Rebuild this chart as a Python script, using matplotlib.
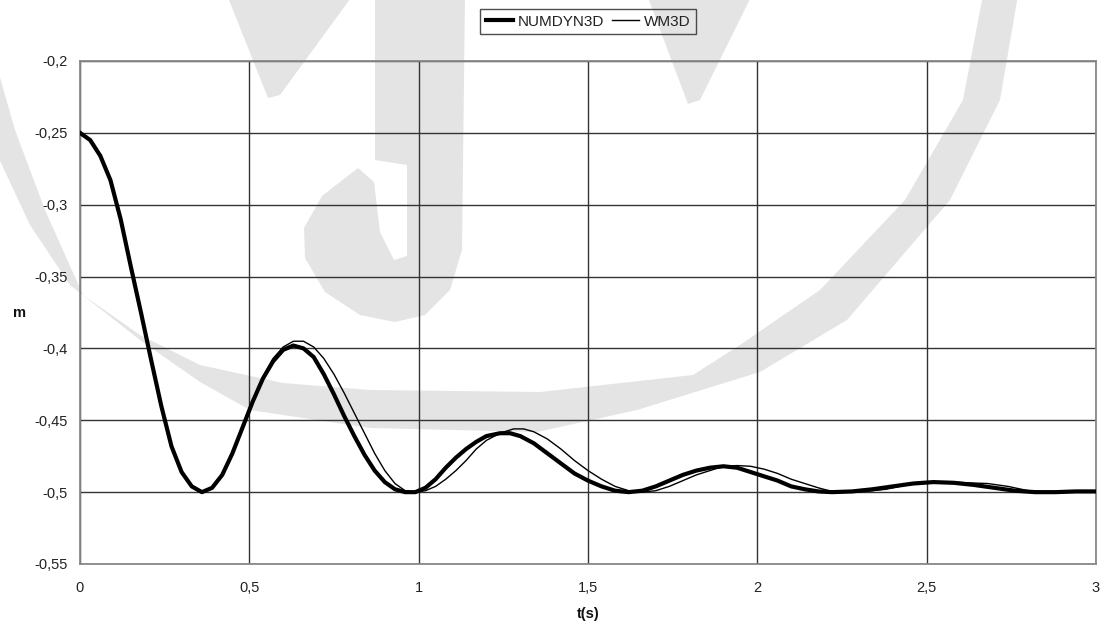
import matplotlib.pyplot as plt
from matplotlib.patches import Polygon

plt.rcParams['font.family'] = ['Liberation Sans', 'DejaVu Sans']

# time (s) and m values
t_num = [0.00, 0.03, 0.06, 0.09, 0.12, 0.15, 0.18, 0.21, 0.24, 0.27, 0.30,
         0.33, 0.36, 0.39, 0.42, 0.45, 0.48, 0.51, 0.54, 0.57, 0.60, 0.63,
         0.66, 0.69, 0.72, 0.75, 0.78, 0.81, 0.84, 0.87, 0.90, 0.93, 0.96,
         0.99, 1.02, 1.05, 1.08, 1.11, 1.14, 1.17, 1.20, 1.24, 1.27, 1.30,
         1.34, 1.38, 1.42, 1.46, 1.50, 1.54, 1.58, 1.62, 1.66, 1.70, 1.74,
         1.78, 1.82, 1.86, 1.90, 1.94, 1.98, 2.02, 2.06, 2.10, 2.14, 2.18,
         2.22, 2.28, 2.34, 2.40, 2.46, 2.52, 2.58, 2.64, 2.70, 2.76, 2.82,
         2.88, 2.94, 3.00]
m_num = [-0.250, -0.255, -0.266, -0.283, -0.310, -0.343, -0.375, -0.408,
         -0.440, -0.468, -0.486, -0.496, -0.500, -0.497, -0.488, -0.473,
         -0.455, -0.437, -0.421, -0.409, -0.401, -0.398, -0.400, -0.406,
         -0.418, -0.432, -0.447, -0.461, -0.474, -0.485, -0.493, -0.498,
         -0.500, -0.500, -0.497, -0.491, -0.483, -0.476, -0.470, -0.465,
         -0.461, -0.459, -0.459, -0.461, -0.466, -0.473, -0.480, -0.487,
         -0.492, -0.496, -0.499, -0.500, -0.499, -0.496, -0.492, -0.488,
         -0.485, -0.483, -0.482, -0.483, -0.486, -0.489, -0.492, -0.496,
         -0.498, -0.4995, -0.500, -0.4995, -0.498, -0.496, -0.494, -0.493,
         -0.4935, -0.495, -0.497, -0.499, -0.500, -0.500, -0.4995, -0.4995]

t_wm = [0.00, 0.03, 0.06, 0.09, 0.12, 0.15, 0.18, 0.21, 0.24, 0.27, 0.30,
        0.33, 0.36, 0.39, 0.42, 0.45, 0.48, 0.51, 0.54, 0.57, 0.60, 0.63,
        0.66, 0.69, 0.72, 0.75, 0.78, 0.81, 0.84, 0.87, 0.90, 0.93, 0.96,
        0.99, 1.02, 1.05, 1.08, 1.11, 1.14, 1.17, 1.20, 1.24, 1.28, 1.31,
        1.34, 1.38, 1.42, 1.46, 1.50, 1.54, 1.58, 1.62, 1.66, 1.70, 1.74,
        1.78, 1.82, 1.86, 1.90, 1.94, 1.98, 2.02, 2.06, 2.10, 2.14, 2.18,
        2.22, 2.26, 2.32, 2.38, 2.44, 2.50, 2.56, 2.62, 2.68, 2.74, 2.80,
        2.86, 2.92, 3.00]
m_wm = [-0.250, -0.255, -0.266, -0.283, -0.310, -0.343, -0.375, -0.408,
        -0.440, -0.468, -0.486, -0.496, -0.500, -0.497, -0.488, -0.473,
        -0.455, -0.437, -0.420, -0.407, -0.399, -0.395, -0.395, -0.399,
        -0.407, -0.418, -0.431, -0.445, -0.459, -0.473, -0.485, -0.494,
        -0.499, -0.500, -0.499, -0.496, -0.491, -0.485, -0.478, -0.470,
        -0.464, -0.459, -0.456, -0.456, -0.458, -0.463, -0.470, -0.478,
        -0.485, -0.491, -0.496, -0.499, -0.500, -0.499, -0.496, -0.492,
        -0.488, -0.485, -0.482, -0.4815, -0.482, -0.484, -0.487, -0.491,
        -0.494, -0.497, -0.4995, -0.500, -0.4995, -0.498, -0.495, -0.493,
        -0.4928, -0.4935, -0.494, -0.496, -0.499, -0.500, -0.500, -0.4995]

x_ticks = [0, 0.5, 1, 1.5, 2, 2.5, 3]
x_labels = ['0', '0,5', '1', '1,5', '2', '2,5', '3']
y_ticks = [-0.55, -0.5, -0.45, -0.4, -0.35, -0.3, -0.25, -0.2]
y_labels = ['-0,55', '-0,5', '-0,45', '-0,4', '-0,35', '-0,3', '-0,25', '-0,2']

W, H = 1102, 624
fig = plt.figure(figsize=(W / 100, H / 100), dpi=100)

# light grey watermark behind the chart (pixel outlines)
wm_shapes = [
    # big ring
    [(983, -5), (963, 100), (905, 200), (820, 290), (740, 345), (693, 375),
     (540, 392), (370, 390), (283, 383), (200, 365), (140, 335), (83, 295),
     (45, 210), (15, 130), (-5, 60),
     (-5, 150), (30, 225), (70, 285), (140, 340), (200, 382), (250, 410),
     (370, 428), (537, 432), (637, 410), (760, 372), (847, 320), (950, 200),
     (1000, 100), (1018, -5)],
    # J
    [(375, -5), (465, -5), (462, 250), (450, 290), (425, 315), (395, 322),
     (360, 315), (325, 292), (305, 258), (304, 228), (322, 196), (358, 168),
     (374, 182), (380, 232), (394, 260), (407, 256), (407, 165), (375, 160)],
    # small wedge top left
    [(227, -5), (353, -5), (280, 95), (268, 98)],
    # wedge right of legend
    [(647, -5), (752, -5), (700, 100), (688, 104)],
]
for shp in wm_shapes:
    pts = [(x / W, 1 - y / H) for x, y in shp]
    fig.patches.append(Polygon(pts, closed=True, transform=fig.transFigure,
                               facecolor='#e4e4e4', edgecolor='none', zorder=-1))

ax = fig.add_axes([80 / W, 1 - 564 / H, 1016 / W, 503 / H])
ax.set_facecolor('none')

ax.plot(t_num, m_num, color='black', linewidth=3.0, label='NUMDYN3D', zorder=3)
ax.plot(t_wm, m_wm, color='black', linewidth=1.0, label='WM3D', zorder=3)

ax.set_xlim(0, 3)
ax.set_ylim(-0.55, -0.2)
ax.set_xticks(x_ticks, x_labels)
ax.set_yticks(y_ticks, y_labels)
ax.tick_params(axis='both', length=0, labelsize=10.5, labelcolor='#222222')
ax.tick_params(axis='y', pad=9)
ax.tick_params(axis='x', pad=12)
ax.grid(True, color='#333333', linewidth=1.0)
ax.set_axisbelow(True)
for sp in ax.spines.values():
    sp.set_color('#888888')
    sp.set_linewidth(1.3)
    sp.set_linestyle((0, (1, 1)))

fig.text(19 / W, 1 - 313 / H, 'm', ha='center', va='center',
         fontsize=10.5, fontweight='bold', color='#111111')
fig.text(588 / W, 1 - 614 / H, 't(s)', ha='center', va='center',
         fontsize=10.5, fontweight='bold', color='#111111')

leg = fig.legend(loc='center', bbox_to_anchor=(588 / W, 1 - 21.5 / H), ncol=2,
                 fontsize=11, handlelength=1.8, handletextpad=0.3,
                 columnspacing=0.5, borderpad=0.35, borderaxespad=0,
                 fancybox=False, frameon=True)
leg.get_frame().set_facecolor('none')
leg.get_frame().set_edgecolor('#222222')
leg.get_frame().set_linewidth(1.0)
for txt in leg.get_texts():
    txt.set_color('#222222')

fig.savefig('out.png', dpi=100)
